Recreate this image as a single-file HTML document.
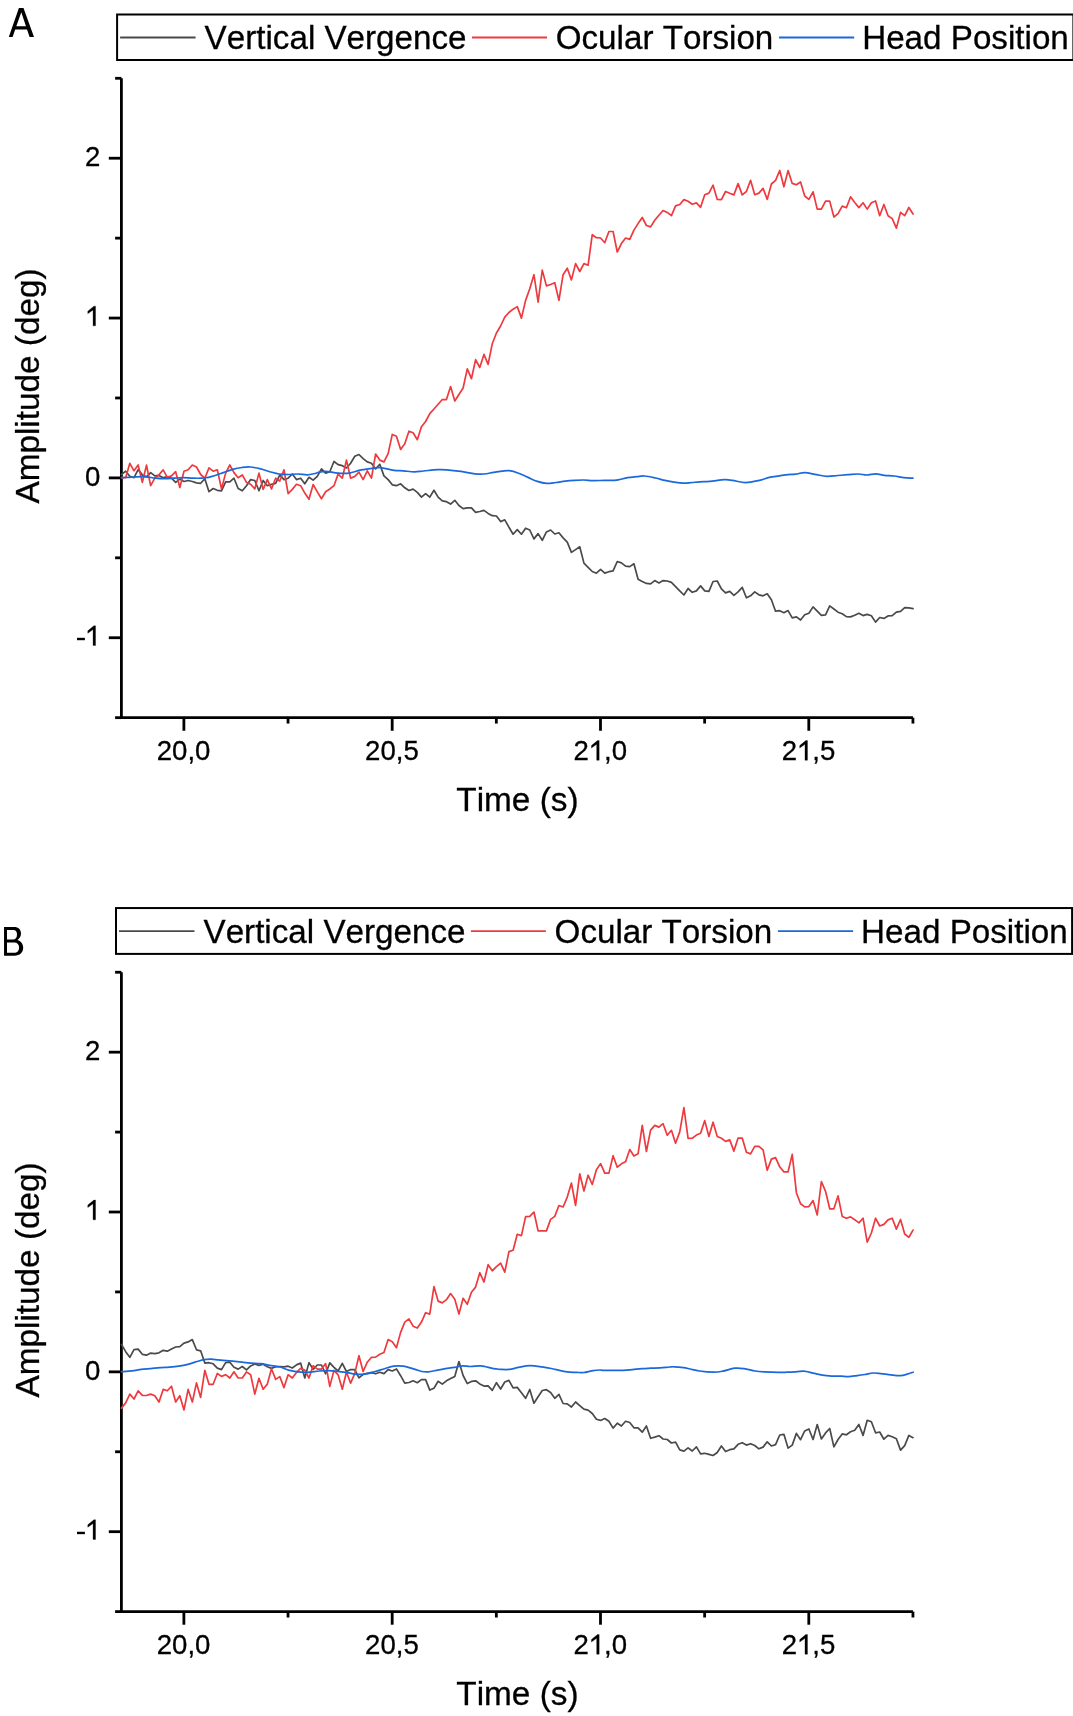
<!DOCTYPE html>
<html><head><meta charset="utf-8"><style>
html,body{margin:0;padding:0;background:#fff;width:1073px;height:1716px;overflow:hidden}
svg{display:block;will-change:transform}
text{font-family:"Liberation Sans",sans-serif;fill:#000;font-kerning:none;stroke:#000;stroke-width:0.3}
</style></head><body>
<svg width="1073" height="1716" viewBox="0 0 1073 1716">
<path fill-rule="evenodd" d="M8.8,36.9 L18.9,8.0 L23.5,8.0 L34.0,36.9 L29.6,36.9 L27.05,29.4 L15.2,29.4 L12.6,36.9 Z M16.3,26.2 L25.96,26.2 L21.3,12.2 Z"/>
<rect x="117.10" y="14.50" width="956.3" height="45.5" fill="none" stroke="#000" stroke-width="2.0"/>
<line x1="120.10" y1="37.50" x2="195.60" y2="37.50" stroke="#4a4a4a" stroke-width="1.8"/>
<line x1="472.00" y1="37.50" x2="547.00" y2="37.50" stroke="#ee3a3e" stroke-width="1.8"/>
<line x1="779.00" y1="37.50" x2="854.20" y2="37.50" stroke="#1a69dc" stroke-width="1.8"/>
<text x="204.60" y="49.00" font-size="33.2">Vertical Vergence</text>
<text x="555.70" y="49.00" font-size="33.2">Ocular Torsion</text>
<text x="862.20" y="49.00" font-size="33.2">Head Position</text>
<line x1="121.40" y1="78.30" x2="121.40" y2="719.06" stroke="#000" stroke-width="2.8"/>
<line x1="120.00" y1="717.66" x2="912.94" y2="717.66" stroke="#000" stroke-width="2.8"/>
<line x1="108.8" y1="158.22" x2="121.40" y2="158.22" stroke="#000" stroke-width="2.8"/>
<g transform="translate(85.10,166.02) scale(1,1.03)"><text x="0" y="0" font-size="27.6">2</text></g>
<line x1="108.8" y1="318.06" x2="121.40" y2="318.06" stroke="#000" stroke-width="2.8"/>
<g transform="translate(85.10,325.86) scale(1,1.03)"><text x="0" y="0" font-size="27.6"><tspan style="visibility:hidden;fill:none;stroke:none">1</tspan></text><path transform="translate(0.000,0) scale(0.01348,-0.01348)" stroke="#000" stroke-width="22.26" d="M775,0 L590,0 L590,1150 L200,880 L200,1060 L652,1420 L775,1420 Z"/></g>
<line x1="108.8" y1="477.90" x2="121.40" y2="477.90" stroke="#000" stroke-width="2.8"/>
<g transform="translate(85.10,485.70) scale(1,1.03)"><text x="0" y="0" font-size="27.6">0</text></g>
<line x1="108.8" y1="637.74" x2="121.40" y2="637.74" stroke="#000" stroke-width="2.8"/>
<g transform="translate(75.91,645.54) scale(1,1.03)"><text x="0" y="0" font-size="27.6"><tspan style="visibility:hidden;fill:none;stroke:none">-</tspan><tspan style="visibility:hidden;fill:none;stroke:none">1</tspan></text><path transform="translate(9.191,0) scale(0.01348,-0.01348)" stroke="#000" stroke-width="22.26" d="M775,0 L590,0 L590,1150 L200,880 L200,1060 L652,1420 L775,1420 Z"/><rect x="1.090" y="-7.510" width="7.900" height="2.330"/></g>
<line x1="115.1" y1="78.30" x2="121.40" y2="78.30" stroke="#000" stroke-width="2.8"/>
<line x1="115.1" y1="238.14" x2="121.40" y2="238.14" stroke="#000" stroke-width="2.8"/>
<line x1="115.1" y1="397.98" x2="121.40" y2="397.98" stroke="#000" stroke-width="2.8"/>
<line x1="115.1" y1="557.82" x2="121.40" y2="557.82" stroke="#000" stroke-width="2.8"/>
<line x1="115.1" y1="717.66" x2="121.40" y2="717.66" stroke="#000" stroke-width="2.8"/>
<line x1="183.89" y1="717.66" x2="183.89" y2="730.76" stroke="#000" stroke-width="2.8"/>
<g transform="translate(156.78,760.31) scale(1,1.03)"><text x="0" y="0" font-size="27.6">20,0</text></g>
<line x1="392.19" y1="717.66" x2="392.19" y2="730.76" stroke="#000" stroke-width="2.8"/>
<g transform="translate(365.08,760.31) scale(1,1.03)"><text x="0" y="0" font-size="27.6">20,5</text></g>
<line x1="600.49" y1="717.66" x2="600.49" y2="730.76" stroke="#000" stroke-width="2.8"/>
<g transform="translate(573.38,760.31) scale(1,1.03)"><text x="0" y="0" font-size="27.6">2<tspan style="visibility:hidden;fill:none;stroke:none">1</tspan>,0</text><path transform="translate(15.350,0) scale(0.01348,-0.01348)" stroke="#000" stroke-width="22.26" d="M775,0 L590,0 L590,1150 L200,880 L200,1060 L652,1420 L775,1420 Z"/></g>
<line x1="808.79" y1="717.66" x2="808.79" y2="730.76" stroke="#000" stroke-width="2.8"/>
<g transform="translate(781.68,760.31) scale(1,1.03)"><text x="0" y="0" font-size="27.6">2<tspan style="visibility:hidden;fill:none;stroke:none">1</tspan>,5</text><path transform="translate(15.350,0) scale(0.01348,-0.01348)" stroke="#000" stroke-width="22.26" d="M775,0 L590,0 L590,1150 L200,880 L200,1060 L652,1420 L775,1420 Z"/></g>
<line x1="288.04" y1="717.66" x2="288.04" y2="723.56" stroke="#000" stroke-width="2.8"/>
<line x1="496.34" y1="717.66" x2="496.34" y2="723.56" stroke="#000" stroke-width="2.8"/>
<line x1="704.64" y1="717.66" x2="704.64" y2="723.56" stroke="#000" stroke-width="2.8"/>
<line x1="912.94" y1="717.66" x2="912.94" y2="723.56" stroke="#000" stroke-width="2.8"/>
<text x="456.34" y="810.80" font-size="33.35">Time (s)</text>
<text transform="translate(38.6,503.60) rotate(-90)" x="0" y="0" font-size="33.35">Amplitude (deg)</text>
<polyline points="121.50,474.50 125.67,471.20 129.83,476.30 134.00,477.70 138.16,469.60 142.33,474.90 146.50,476.80 150.66,472.60 154.83,475.90 158.99,475.40 163.16,477.70 167.33,476.80 171.49,478.20 175.66,482.40 179.82,479.10 183.99,481.50 188.16,480.50 192.32,481.50 196.49,482.90 200.65,483.30 204.82,478.70 208.99,491.70 213.15,488.50 217.32,490.30 221.48,490.80 225.65,481.90 229.82,481.90 233.98,478.20 238.15,488.50 242.31,490.80 246.48,485.70 250.65,479.60 254.81,480.50 258.98,490.80 263.14,480.50 267.31,485.70 271.48,484.30 275.64,483.30 279.81,474.90 283.97,479.60 288.14,478.20 292.31,474.00 296.47,479.60 300.64,478.20 304.80,483.80 308.97,477.30 313.14,480.10 317.30,476.40 321.47,468.90 325.63,473.10 329.80,471.70 333.97,461.50 338.13,464.70 342.30,465.70 346.46,468.00 350.63,463.30 354.80,456.30 358.96,454.50 363.13,458.70 367.29,461.90 371.46,463.30 375.63,468.90 379.79,464.30 383.96,475.90 388.12,479.60 392.29,484.80 396.46,485.70 400.62,483.80 404.79,487.80 408.95,490.50 413.12,489.10 417.29,492.40 421.45,497.10 425.62,493.60 429.78,497.10 433.95,490.30 438.12,497.10 442.28,500.80 446.45,501.70 450.61,504.10 454.78,500.30 458.95,505.50 463.11,508.70 467.28,507.80 471.44,507.80 475.61,512.30 479.78,511.50 483.94,510.40 488.11,513.40 492.27,515.70 496.44,516.00 500.61,521.60 504.77,519.80 508.94,527.20 513.10,534.20 517.27,529.60 521.44,534.20 525.60,528.20 529.77,530.00 533.93,538.90 538.10,533.60 542.27,540.30 546.43,531.90 550.60,530.00 554.76,534.00 558.93,532.80 563.10,537.90 567.26,542.10 571.43,552.40 575.59,549.60 579.76,546.80 583.93,563.10 588.09,567.30 592.26,571.50 596.42,573.20 600.59,569.40 604.76,573.10 608.92,571.70 613.09,570.80 617.25,561.50 621.42,562.90 625.59,566.10 629.75,566.60 633.92,563.80 638.08,579.20 642.25,581.50 646.42,583.40 650.58,583.80 654.75,580.60 658.91,582.90 663.08,580.60 667.25,581.00 671.41,582.40 675.58,586.60 679.74,590.80 683.91,595.00 688.08,588.50 692.24,592.30 696.41,590.90 700.57,585.90 704.74,590.90 708.91,591.40 713.07,581.50 717.24,581.00 721.40,588.90 725.57,592.90 729.74,591.40 733.90,595.30 738.07,591.90 742.23,587.40 746.40,597.80 750.57,595.80 754.73,591.90 758.90,594.80 763.06,595.80 767.23,593.80 771.40,599.80 775.56,611.20 779.73,610.70 783.89,612.70 788.06,610.60 792.23,617.90 796.39,616.90 800.56,620.00 804.72,614.80 808.89,613.20 813.06,606.90 817.22,611.10 821.39,615.30 825.55,614.80 829.72,605.90 833.89,609.00 838.05,612.20 842.22,613.70 846.38,616.60 850.55,616.90 854.72,615.30 858.88,613.30 863.05,615.60 867.21,614.40 871.38,615.70 875.55,622.10 879.71,617.50 883.88,618.40 888.04,615.90 892.21,615.70 896.38,612.10 900.54,611.30 904.71,607.70 908.87,607.90 913.04,608.70" fill="none" stroke="#4a4a4a" stroke-width="1.7" stroke-linejoin="round" stroke-linecap="round"/>
<polyline points="121.50,477.70 125.67,477.70 129.83,463.30 134.00,470.80 138.16,465.00 142.33,482.40 146.50,465.20 150.66,485.70 154.83,478.20 158.99,474.90 163.16,469.80 167.33,477.30 171.49,475.90 175.66,471.70 179.82,487.50 183.99,471.20 188.16,469.80 192.32,465.00 196.49,467.00 200.65,474.50 204.82,478.20 208.99,467.90 213.15,471.20 217.32,469.80 221.48,488.90 225.65,473.10 229.82,465.00 233.98,472.60 238.15,477.70 242.31,474.90 246.48,482.40 250.65,484.30 254.81,488.90 258.98,473.10 263.14,489.40 267.31,479.60 271.48,488.90 275.64,478.20 279.81,481.00 283.97,469.80 288.14,493.60 292.31,489.40 296.47,484.30 300.64,485.70 304.80,493.10 308.97,499.20 313.14,484.50 317.30,491.80 321.47,498.80 325.63,491.80 329.80,489.00 333.97,485.70 338.13,474.10 342.30,478.20 346.46,460.10 350.63,478.20 354.80,476.40 358.96,472.20 363.13,479.60 367.29,470.80 371.46,478.20 375.63,454.00 379.79,460.10 383.96,461.90 388.12,453.60 392.29,434.40 396.46,436.30 400.62,449.40 404.79,443.80 408.95,431.20 413.12,432.70 417.29,439.70 421.45,426.70 425.62,421.50 429.78,413.60 433.95,409.00 438.12,404.30 442.28,399.50 446.45,399.60 450.61,386.60 454.78,401.00 458.95,394.50 463.11,388.00 467.28,368.90 471.44,378.70 475.61,359.60 479.78,367.50 483.94,354.40 488.11,364.40 492.27,343.70 496.44,333.00 500.61,326.00 504.77,317.10 508.94,312.50 513.10,309.20 517.27,306.60 521.44,318.10 525.60,300.40 529.77,288.70 533.93,274.70 538.10,302.20 542.27,270.10 546.43,285.90 550.60,284.50 554.76,282.70 558.93,300.40 563.10,274.70 567.26,268.20 571.43,279.90 575.59,263.60 579.76,271.50 583.93,263.60 588.09,265.20 592.26,234.70 596.42,237.70 600.59,238.00 604.76,242.70 608.92,231.50 613.09,231.50 617.25,252.00 621.42,243.60 625.59,238.00 629.75,239.40 633.92,230.10 638.08,223.60 642.25,217.50 646.42,225.50 650.58,226.90 654.75,220.30 658.91,215.20 663.08,210.50 667.25,212.40 671.41,215.70 675.58,205.90 679.74,204.50 683.91,199.60 688.08,201.20 692.24,204.20 696.41,202.90 700.57,207.30 704.74,194.70 708.91,193.10 713.07,185.20 717.24,199.40 721.40,199.60 725.57,191.50 729.74,193.30 733.90,194.90 738.07,183.60 742.23,194.90 746.40,191.50 750.57,180.30 754.73,194.70 758.90,193.10 763.06,188.40 767.23,199.40 771.40,184.00 775.56,180.30 779.73,170.50 783.89,186.80 788.06,170.60 792.23,183.40 796.39,184.80 800.56,182.00 804.72,196.00 808.89,199.30 813.06,191.80 817.22,209.10 821.39,209.10 825.55,201.10 829.72,201.10 833.89,217.00 838.05,213.70 842.22,206.10 846.38,207.70 850.55,196.80 854.72,202.50 858.88,207.60 863.05,202.80 867.21,209.10 871.38,202.80 875.55,201.00 879.71,215.70 883.88,204.50 888.04,215.70 892.21,218.60 896.38,228.10 900.54,212.40 904.71,215.70 908.87,207.50 913.04,214.00" fill="none" stroke="#ee3a3e" stroke-width="1.7" stroke-linejoin="round" stroke-linecap="round"/>
<path d="M121.70,477.70 C124.18,477.55 132.55,476.95 136.60,476.80 C140.65,476.65 142.88,476.57 146.00,476.80 C149.12,477.03 152.20,477.88 155.30,478.20 C158.40,478.52 161.50,478.70 164.60,478.70 C167.70,478.70 170.80,478.37 173.90,478.20 C177.00,478.03 180.08,477.70 183.20,477.70 C186.32,477.70 189.48,478.12 192.60,478.20 C195.72,478.28 199.58,478.28 201.90,478.20 C204.22,478.12 204.95,477.97 206.50,477.70 C208.05,477.43 209.28,477.13 211.20,476.60 C213.12,476.07 215.98,475.17 218.00,474.50 C220.02,473.83 220.87,473.45 223.30,472.60 C225.73,471.75 229.48,470.25 232.60,469.40 C235.72,468.55 239.05,467.90 242.00,467.50 C244.95,467.10 247.20,466.77 250.30,467.00 C253.40,467.23 257.33,468.12 260.60,468.90 C263.87,469.68 266.80,470.85 269.90,471.70 C273.00,472.55 276.08,473.53 279.20,474.00 C282.32,474.47 285.48,474.50 288.60,474.50 C291.72,474.50 294.80,473.95 297.90,474.00 C301.00,474.05 304.35,474.88 307.20,474.80 C310.05,474.72 312.98,473.93 315.00,473.50 C317.02,473.07 317.50,472.57 319.30,472.20 C321.10,471.83 322.68,471.15 325.80,471.30 C328.92,471.45 334.12,472.80 338.00,473.10 C341.88,473.40 345.22,473.63 349.10,473.10 C352.98,472.57 356.95,470.75 361.30,469.90 C365.65,469.05 371.95,468.37 375.20,468.00 C378.45,467.63 377.68,467.32 380.80,467.70 C383.92,468.08 390.17,469.78 393.90,470.30 C397.63,470.82 399.80,470.53 403.20,470.80 C406.60,471.07 410.90,471.87 414.30,471.90 C417.70,471.93 419.72,471.38 423.60,471.00 C427.48,470.62 433.72,469.80 437.60,469.60 C441.48,469.40 443.02,469.50 446.90,469.80 C450.78,470.10 456.23,470.73 460.90,471.40 C465.57,472.07 471.02,473.37 474.90,473.80 C478.78,474.23 481.10,474.23 484.20,474.00 C487.30,473.77 490.53,472.87 493.50,472.40 C496.47,471.93 499.37,471.48 502.00,471.20 C504.63,470.92 506.53,470.37 509.30,470.70 C512.07,471.03 515.48,472.08 518.60,473.20 C521.72,474.32 524.88,476.03 528.00,477.40 C531.12,478.77 534.20,480.40 537.30,481.40 C540.40,482.40 543.50,483.22 546.60,483.40 C549.70,483.58 552.80,482.88 555.90,482.50 C559.00,482.12 562.08,481.47 565.20,481.10 C568.32,480.73 571.48,480.48 574.60,480.30 C577.72,480.12 580.80,479.95 583.90,480.00 C587.00,480.05 589.80,480.53 593.20,480.60 C596.60,480.67 600.90,480.43 604.30,480.40 C607.70,480.37 611.27,480.48 613.60,480.40 C615.93,480.32 615.97,480.37 618.30,479.90 C620.63,479.43 624.50,478.15 627.60,477.60 C630.70,477.05 634.10,476.87 636.90,476.60 C639.70,476.33 641.28,475.77 644.40,476.00 C647.52,476.23 652.18,477.27 655.60,478.00 C659.02,478.73 661.80,479.70 664.90,480.40 C668.00,481.10 671.10,481.73 674.20,482.20 C677.30,482.67 680.53,483.15 683.50,483.20 C686.47,483.25 689.27,482.73 692.00,482.50 C694.73,482.27 696.93,481.98 699.90,481.80 C702.87,481.62 705.67,481.75 709.80,481.40 C713.93,481.05 720.90,479.87 724.70,479.70 C728.50,479.53 729.13,479.92 732.60,480.40 C736.07,480.88 741.03,482.60 745.50,482.60 C749.97,482.60 755.43,481.27 759.40,480.40 C763.37,479.53 766.00,478.15 769.30,477.40 C772.60,476.65 776.08,476.37 779.20,475.90 C782.32,475.43 785.28,474.88 788.00,474.60 C790.72,474.32 792.68,474.53 795.50,474.20 C798.32,473.87 801.40,472.52 804.90,472.60 C808.40,472.68 812.82,474.08 816.50,474.70 C820.18,475.32 823.50,476.17 827.00,476.30 C830.50,476.43 834.00,475.77 837.50,475.50 C841.00,475.23 844.52,474.95 848.00,474.70 C851.48,474.45 855.28,473.95 858.40,474.00 C861.52,474.05 863.78,475.02 866.70,475.00 C869.62,474.98 872.95,473.83 875.90,473.90 C878.85,473.97 881.37,475.05 884.40,475.40 C887.43,475.75 890.85,475.62 894.10,476.00 C897.35,476.38 900.75,477.33 903.90,477.70 C907.05,478.07 911.48,478.12 913.00,478.20" fill="none" stroke="#1a69dc" stroke-width="1.7" stroke-linecap="round"/>
<path fill-rule="evenodd" d="M4.05,927.0 L14.0,927.0 C18.6,927.0 21.0,929.6 21.0,933.6 C21.0,936.4 19.6,938.4 17.6,939.9 C21.3,941.2 23.2,944.0 23.2,947.6 C23.2,952.6 19.8,955.8 14.4,955.8 L4.05,955.8 Z M7.0,929.9 L13.4,929.9 C15.8,929.9 17.0,931.4 17.0,934.6 C17.0,937.8 15.4,939.6 13.0,939.6 L7.0,939.6 Z M7.0,942.4 L14.2,942.4 C17.4,942.4 19.1,944.4 19.1,947.5 C19.1,950.8 17.2,952.8 14.2,952.8 L7.0,952.8 Z"/>
<rect x="116.00" y="908.05" width="956.1" height="45.85" fill="none" stroke="#000" stroke-width="2.0"/>
<line x1="119.00" y1="931.05" x2="194.50" y2="931.05" stroke="#4a4a4a" stroke-width="1.8"/>
<line x1="470.90" y1="931.05" x2="545.90" y2="931.05" stroke="#ee3a3e" stroke-width="1.8"/>
<line x1="777.90" y1="931.05" x2="853.10" y2="931.05" stroke="#1a69dc" stroke-width="1.8"/>
<text x="203.50" y="942.55" font-size="33.2">Vertical Vergence</text>
<text x="554.60" y="942.55" font-size="33.2">Ocular Torsion</text>
<text x="861.10" y="942.55" font-size="33.2">Head Position</text>
<line x1="121.40" y1="972.25" x2="121.40" y2="1613.01" stroke="#000" stroke-width="2.8"/>
<line x1="120.00" y1="1611.61" x2="912.94" y2="1611.61" stroke="#000" stroke-width="2.8"/>
<line x1="108.8" y1="1052.17" x2="121.40" y2="1052.17" stroke="#000" stroke-width="2.8"/>
<g transform="translate(85.10,1059.97) scale(1,1.03)"><text x="0" y="0" font-size="27.6">2</text></g>
<line x1="108.8" y1="1212.01" x2="121.40" y2="1212.01" stroke="#000" stroke-width="2.8"/>
<g transform="translate(85.10,1219.81) scale(1,1.03)"><text x="0" y="0" font-size="27.6"><tspan style="visibility:hidden;fill:none;stroke:none">1</tspan></text><path transform="translate(0.000,0) scale(0.01348,-0.01348)" stroke="#000" stroke-width="22.26" d="M775,0 L590,0 L590,1150 L200,880 L200,1060 L652,1420 L775,1420 Z"/></g>
<line x1="108.8" y1="1371.85" x2="121.40" y2="1371.85" stroke="#000" stroke-width="2.8"/>
<g transform="translate(85.10,1379.65) scale(1,1.03)"><text x="0" y="0" font-size="27.6">0</text></g>
<line x1="108.8" y1="1531.69" x2="121.40" y2="1531.69" stroke="#000" stroke-width="2.8"/>
<g transform="translate(75.91,1539.49) scale(1,1.03)"><text x="0" y="0" font-size="27.6"><tspan style="visibility:hidden;fill:none;stroke:none">-</tspan><tspan style="visibility:hidden;fill:none;stroke:none">1</tspan></text><path transform="translate(9.191,0) scale(0.01348,-0.01348)" stroke="#000" stroke-width="22.26" d="M775,0 L590,0 L590,1150 L200,880 L200,1060 L652,1420 L775,1420 Z"/><rect x="1.090" y="-7.510" width="7.900" height="2.330"/></g>
<line x1="115.1" y1="972.25" x2="121.40" y2="972.25" stroke="#000" stroke-width="2.8"/>
<line x1="115.1" y1="1132.09" x2="121.40" y2="1132.09" stroke="#000" stroke-width="2.8"/>
<line x1="115.1" y1="1291.93" x2="121.40" y2="1291.93" stroke="#000" stroke-width="2.8"/>
<line x1="115.1" y1="1451.77" x2="121.40" y2="1451.77" stroke="#000" stroke-width="2.8"/>
<line x1="115.1" y1="1611.61" x2="121.40" y2="1611.61" stroke="#000" stroke-width="2.8"/>
<line x1="183.89" y1="1611.61" x2="183.89" y2="1624.71" stroke="#000" stroke-width="2.8"/>
<g transform="translate(156.78,1654.26) scale(1,1.03)"><text x="0" y="0" font-size="27.6">20,0</text></g>
<line x1="392.19" y1="1611.61" x2="392.19" y2="1624.71" stroke="#000" stroke-width="2.8"/>
<g transform="translate(365.08,1654.26) scale(1,1.03)"><text x="0" y="0" font-size="27.6">20,5</text></g>
<line x1="600.49" y1="1611.61" x2="600.49" y2="1624.71" stroke="#000" stroke-width="2.8"/>
<g transform="translate(573.38,1654.26) scale(1,1.03)"><text x="0" y="0" font-size="27.6">2<tspan style="visibility:hidden;fill:none;stroke:none">1</tspan>,0</text><path transform="translate(15.350,0) scale(0.01348,-0.01348)" stroke="#000" stroke-width="22.26" d="M775,0 L590,0 L590,1150 L200,880 L200,1060 L652,1420 L775,1420 Z"/></g>
<line x1="808.79" y1="1611.61" x2="808.79" y2="1624.71" stroke="#000" stroke-width="2.8"/>
<g transform="translate(781.68,1654.26) scale(1,1.03)"><text x="0" y="0" font-size="27.6">2<tspan style="visibility:hidden;fill:none;stroke:none">1</tspan>,5</text><path transform="translate(15.350,0) scale(0.01348,-0.01348)" stroke="#000" stroke-width="22.26" d="M775,0 L590,0 L590,1150 L200,880 L200,1060 L652,1420 L775,1420 Z"/></g>
<line x1="288.04" y1="1611.61" x2="288.04" y2="1617.51" stroke="#000" stroke-width="2.8"/>
<line x1="496.34" y1="1611.61" x2="496.34" y2="1617.51" stroke="#000" stroke-width="2.8"/>
<line x1="704.64" y1="1611.61" x2="704.64" y2="1617.51" stroke="#000" stroke-width="2.8"/>
<line x1="912.94" y1="1611.61" x2="912.94" y2="1617.51" stroke="#000" stroke-width="2.8"/>
<text x="456.34" y="1704.75" font-size="33.35">Time (s)</text>
<text transform="translate(38.6,1397.55) rotate(-90)" x="0" y="0" font-size="33.35">Amplitude (deg)</text>
<polyline points="121.50,1344.40 125.67,1351.70 129.83,1357.30 134.00,1349.60 138.16,1349.10 142.33,1354.30 146.50,1355.20 150.66,1353.10 154.83,1353.70 158.99,1352.80 163.16,1350.30 167.33,1351.20 171.49,1348.90 175.66,1347.00 179.82,1346.60 183.99,1343.10 188.16,1341.90 192.32,1339.60 196.49,1349.80 200.65,1350.80 204.82,1363.10 208.99,1362.70 213.15,1363.80 217.32,1368.10 221.48,1369.60 225.65,1362.60 229.82,1362.20 233.98,1367.30 238.15,1369.10 242.31,1366.50 246.48,1369.90 250.65,1365.90 254.81,1364.00 258.98,1365.40 263.14,1364.30 267.31,1366.80 271.48,1368.40 275.64,1366.80 279.81,1366.50 283.97,1366.80 288.14,1366.20 292.31,1368.00 296.47,1364.90 300.64,1363.10 304.80,1378.00 308.97,1362.60 313.14,1369.30 317.30,1365.00 321.47,1365.00 325.63,1373.80 329.80,1362.90 333.97,1367.30 338.13,1371.00 342.30,1363.30 346.46,1371.50 350.63,1369.50 354.80,1369.60 358.96,1377.80 363.13,1374.30 367.29,1373.40 371.46,1372.60 375.63,1373.80 379.79,1372.30 383.96,1373.60 388.12,1369.60 392.29,1371.00 396.46,1368.90 400.62,1375.70 404.79,1383.20 408.95,1382.50 413.12,1380.80 417.29,1382.70 421.45,1379.60 425.62,1379.60 429.78,1390.10 433.95,1388.20 438.12,1381.30 442.28,1384.10 446.45,1380.80 450.61,1378.60 454.78,1376.40 458.95,1361.50 463.11,1375.50 467.28,1383.60 471.44,1381.40 475.61,1380.80 479.78,1383.90 483.94,1386.10 488.11,1385.90 492.27,1390.40 496.44,1382.70 500.61,1389.00 504.77,1382.00 508.94,1380.40 513.10,1387.90 517.27,1387.40 521.44,1392.70 525.60,1398.30 529.77,1389.50 533.93,1403.20 538.10,1396.70 542.27,1390.50 546.43,1389.70 550.60,1392.50 554.76,1398.30 558.93,1394.40 563.10,1403.50 567.26,1403.90 571.43,1407.00 575.59,1402.00 579.76,1405.60 583.93,1409.10 588.09,1410.10 592.26,1413.50 596.42,1419.30 600.59,1420.40 604.76,1418.50 608.92,1421.30 613.09,1428.10 617.25,1423.20 621.42,1426.00 625.59,1421.30 629.75,1422.50 633.92,1427.80 638.08,1427.80 642.25,1432.20 646.42,1426.00 650.58,1438.30 654.75,1437.10 658.91,1435.70 663.08,1439.00 667.25,1439.50 671.41,1443.00 675.58,1442.10 679.74,1449.90 683.91,1451.10 688.08,1447.90 692.24,1451.00 696.41,1446.90 700.57,1453.90 704.74,1453.30 708.91,1454.40 713.07,1455.50 717.24,1452.50 721.40,1446.00 725.57,1451.60 729.74,1449.70 733.90,1448.80 738.07,1444.30 742.23,1442.70 746.40,1445.10 750.57,1443.70 754.73,1445.50 758.90,1448.80 763.06,1447.10 767.23,1441.80 771.40,1446.00 775.56,1444.60 779.73,1435.00 783.89,1434.30 788.06,1448.10 792.23,1445.10 796.39,1433.40 800.56,1439.70 804.72,1430.90 808.89,1429.00 813.06,1439.50 817.22,1424.60 821.39,1439.00 825.55,1432.90 829.72,1428.50 833.89,1446.90 838.05,1439.50 842.22,1433.90 846.38,1434.80 850.55,1431.80 854.72,1430.30 858.88,1424.50 863.05,1435.40 867.21,1420.30 871.38,1421.80 875.55,1432.80 879.71,1432.00 883.88,1439.20 888.04,1435.40 892.21,1436.70 896.38,1438.70 900.54,1450.10 904.71,1445.60 908.87,1435.40 913.04,1437.70" fill="none" stroke="#4a4a4a" stroke-width="1.7" stroke-linejoin="round" stroke-linecap="round"/>
<polyline points="121.50,1408.10 125.67,1402.90 129.83,1394.10 134.00,1399.00 138.16,1390.80 142.33,1395.30 146.50,1395.50 150.66,1394.10 154.83,1395.70 158.99,1402.00 163.16,1389.40 167.33,1390.80 171.49,1386.20 175.66,1402.00 179.82,1395.70 183.99,1409.90 188.16,1389.40 192.32,1402.00 196.49,1382.90 200.65,1397.40 204.82,1370.30 208.99,1384.30 213.15,1384.30 217.32,1373.50 221.48,1376.40 225.65,1374.70 229.82,1378.00 233.98,1371.80 238.15,1378.00 242.31,1378.00 246.48,1371.90 250.65,1374.70 254.81,1394.10 258.98,1378.30 263.14,1389.20 267.31,1384.10 271.48,1368.70 275.64,1379.40 279.81,1376.60 283.97,1387.60 288.14,1374.70 292.31,1378.00 296.47,1372.40 300.64,1368.40 304.80,1370.10 308.97,1378.00 313.14,1365.70 317.30,1369.20 321.47,1369.20 325.63,1363.60 329.80,1386.40 333.97,1370.40 338.13,1374.80 342.30,1389.20 346.46,1372.00 350.63,1383.20 354.80,1373.40 358.96,1355.70 363.13,1371.50 367.29,1362.20 371.46,1357.30 375.63,1357.10 379.79,1354.30 383.96,1352.40 388.12,1339.60 392.29,1341.70 396.46,1347.70 400.62,1332.40 404.79,1322.10 408.95,1318.90 413.12,1326.20 417.29,1328.10 421.45,1322.10 425.62,1312.70 429.78,1314.10 433.95,1286.60 438.12,1301.10 442.28,1302.90 446.45,1299.70 450.61,1293.60 454.78,1299.20 458.95,1314.10 463.11,1298.30 467.28,1304.30 471.44,1292.20 475.61,1287.10 479.78,1272.70 483.94,1282.00 488.11,1264.70 492.27,1270.80 496.44,1266.60 500.61,1263.10 504.77,1272.20 508.94,1251.60 513.10,1250.20 517.27,1234.30 521.44,1235.60 525.60,1216.60 529.77,1216.40 533.93,1212.00 538.10,1230.90 542.27,1230.90 546.43,1230.90 550.60,1219.40 554.76,1216.40 558.93,1205.50 563.10,1207.00 567.26,1197.10 571.43,1183.10 575.59,1205.50 579.76,1173.80 583.93,1191.00 588.09,1175.20 592.26,1184.50 596.42,1169.80 600.59,1163.60 604.76,1173.10 608.92,1173.10 613.09,1155.70 617.25,1167.20 621.42,1163.80 625.59,1161.80 629.75,1149.50 633.92,1156.00 638.08,1153.80 642.25,1125.40 646.42,1151.50 650.58,1130.10 654.75,1125.40 658.91,1127.10 663.08,1123.70 667.25,1135.20 671.41,1130.30 675.58,1143.30 679.74,1131.90 683.91,1107.70 688.08,1138.30 692.24,1138.20 696.41,1135.10 700.57,1133.20 704.74,1120.60 708.91,1136.50 713.07,1122.20 717.24,1136.50 721.40,1138.30 725.57,1141.40 729.74,1139.90 733.90,1151.10 738.07,1138.10 742.23,1138.10 746.40,1152.30 750.57,1153.90 754.73,1146.30 758.90,1146.30 763.06,1149.80 767.23,1170.30 771.40,1159.10 775.56,1157.60 779.73,1166.80 783.89,1171.90 788.06,1171.80 792.23,1154.40 796.39,1192.70 800.56,1203.80 804.72,1206.90 808.89,1206.60 813.06,1200.60 817.22,1215.00 821.39,1181.50 825.55,1191.30 829.72,1208.80 833.89,1208.80 838.05,1195.90 842.22,1216.40 846.38,1218.30 850.55,1216.90 854.72,1219.70 858.88,1222.90 863.05,1218.20 867.21,1242.20 871.38,1233.00 875.55,1218.20 879.71,1226.00 883.88,1224.40 888.04,1219.90 892.21,1218.20 896.38,1229.10 900.54,1219.50 904.71,1234.00 908.87,1237.30 913.04,1230.10" fill="none" stroke="#ee3a3e" stroke-width="1.7" stroke-linejoin="round" stroke-linecap="round"/>
<path d="M121.50,1371.70 C123.25,1371.55 128.70,1371.18 132.00,1370.80 C135.30,1370.42 138.20,1369.77 141.30,1369.40 C144.40,1369.03 147.48,1368.88 150.60,1368.60 C153.72,1368.32 156.88,1367.95 160.00,1367.70 C163.12,1367.45 166.20,1367.37 169.30,1367.10 C172.40,1366.83 175.50,1366.57 178.60,1366.10 C181.70,1365.63 184.80,1365.07 187.90,1364.30 C191.00,1363.53 194.57,1362.28 197.20,1361.50 C199.83,1360.72 201.37,1360.00 203.70,1359.60 C206.03,1359.20 208.82,1359.05 211.20,1359.10 C213.58,1359.15 215.98,1359.70 218.00,1359.90 C220.02,1360.10 220.87,1360.08 223.30,1360.30 C225.73,1360.52 229.48,1360.88 232.60,1361.20 C235.72,1361.52 238.88,1361.88 242.00,1362.20 C245.12,1362.52 248.20,1362.85 251.30,1363.10 C254.40,1363.35 257.50,1363.32 260.60,1363.70 C263.70,1364.08 266.80,1364.88 269.90,1365.40 C273.00,1365.92 276.08,1366.02 279.20,1366.80 C282.32,1367.58 285.48,1369.25 288.60,1370.10 C291.72,1370.95 294.80,1371.53 297.90,1371.90 C301.00,1372.27 303.63,1372.45 307.20,1372.30 C310.77,1372.15 315.73,1371.28 319.30,1371.00 C322.87,1370.72 325.48,1370.52 328.60,1370.60 C331.72,1370.68 334.88,1371.17 338.00,1371.50 C341.12,1371.83 344.20,1372.13 347.30,1372.60 C350.40,1373.07 353.50,1374.10 356.60,1374.30 C359.70,1374.50 362.80,1374.27 365.90,1373.80 C369.00,1373.33 372.08,1372.35 375.20,1371.50 C378.32,1370.65 381.48,1369.60 384.60,1368.70 C387.72,1367.80 390.80,1366.52 393.90,1366.10 C397.00,1365.68 399.80,1365.70 403.20,1366.20 C406.60,1366.70 411.20,1368.22 414.30,1369.10 C417.40,1369.98 419.47,1371.05 421.80,1371.50 C424.13,1371.95 425.67,1372.03 428.30,1371.80 C430.93,1371.57 434.50,1370.67 437.60,1370.10 C440.70,1369.53 443.78,1368.90 446.90,1368.40 C450.02,1367.90 453.65,1367.52 456.30,1367.10 C458.95,1366.68 460.48,1366.00 462.80,1365.90 C465.12,1365.80 467.40,1366.50 470.20,1366.50 C473.00,1366.50 477.27,1365.93 479.60,1365.90 C481.93,1365.87 481.88,1365.83 484.20,1366.30 C486.52,1366.77 490.87,1368.20 493.50,1368.70 C496.13,1369.20 497.37,1369.18 500.00,1369.30 C502.63,1369.42 506.20,1369.72 509.30,1369.40 C512.40,1369.08 515.18,1368.02 518.60,1367.40 C522.02,1366.78 525.92,1365.78 529.80,1365.70 C533.68,1365.62 538.32,1366.43 541.90,1366.90 C545.48,1367.37 547.42,1367.72 551.30,1368.50 C555.18,1369.28 560.55,1370.93 565.20,1371.60 C569.85,1372.27 576.08,1372.35 579.20,1372.50 C582.32,1372.65 581.57,1372.82 583.90,1372.50 C586.23,1372.18 590.52,1371.02 593.20,1370.60 C595.88,1370.18 598.15,1370.05 600.00,1370.00 C601.85,1369.95 600.47,1370.25 604.30,1370.30 C608.13,1370.35 618.33,1370.42 623.00,1370.30 C627.67,1370.18 629.20,1369.88 632.30,1369.60 C635.40,1369.32 638.50,1368.83 641.60,1368.60 C644.70,1368.37 647.80,1368.32 650.90,1368.20 C654.00,1368.08 657.08,1368.10 660.20,1367.90 C663.32,1367.70 667.27,1367.18 669.60,1367.00 C671.93,1366.82 671.88,1366.68 674.20,1366.80 C676.52,1366.92 680.87,1367.33 683.50,1367.70 C686.13,1368.07 687.37,1368.45 690.00,1369.00 C692.63,1369.55 695.42,1370.47 699.30,1371.00 C703.18,1371.53 709.42,1372.17 713.30,1372.20 C717.18,1372.23 719.03,1371.87 722.60,1371.20 C726.17,1370.53 731.12,1368.63 734.70,1368.20 C738.28,1367.77 740.68,1368.13 744.10,1368.60 C747.52,1369.07 751.78,1370.45 755.20,1371.00 C758.62,1371.55 760.72,1371.67 764.60,1371.90 C768.48,1372.13 774.77,1372.35 778.50,1372.40 C782.23,1372.45 784.37,1372.28 787.00,1372.20 C789.63,1372.12 791.53,1372.07 794.30,1371.90 C797.07,1371.73 800.48,1371.00 803.60,1371.20 C806.72,1371.40 809.88,1372.43 813.00,1373.10 C816.12,1373.77 819.20,1374.70 822.30,1375.20 C825.40,1375.70 828.50,1375.95 831.60,1376.10 C834.70,1376.25 838.10,1376.02 840.90,1376.10 C843.70,1376.18 845.72,1376.68 848.40,1376.60 C851.08,1376.52 854.27,1375.95 857.00,1375.60 C859.73,1375.25 862.08,1374.93 864.80,1374.50 C867.52,1374.07 870.58,1373.15 873.30,1373.00 C876.02,1372.85 878.17,1373.28 881.10,1373.60 C884.03,1373.92 887.63,1374.57 890.90,1374.90 C894.17,1375.23 897.98,1375.73 900.70,1375.60 C903.42,1375.47 905.12,1374.67 907.20,1374.10 C909.28,1373.53 912.20,1372.52 913.20,1372.20" fill="none" stroke="#1a69dc" stroke-width="1.7" stroke-linecap="round"/>
</svg>
</body></html>
